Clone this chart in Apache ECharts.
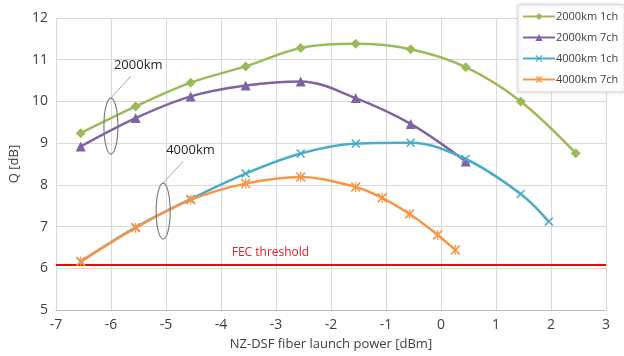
<!DOCTYPE html>
<html>
<head>
<meta charset="utf-8">
<script src="https://cdn.jsdelivr.net/npm/echarts@6/dist/echarts.min.js"></script>
<style>
  html, body { margin: 0; padding: 0; background: #fff; }
  #chart { width: 624px; height: 356px; }
</style>
</head>
<body>
<div id="chart"></div>
<script>
// launch power [dBm] and Q [dB] per curve
const x2000 = [-6.55, -5.55, -4.55, -3.55, -2.55, -1.55, -0.55, 0.45, 1.45, 2.45]
const q2000_1ch = [9.24, 9.88, 10.45, 10.84, 11.28, 11.38, 11.25, 10.82, 10.0, 8.76]
const q2000_7ch = [8.92, 9.6, 10.12, 10.38, 10.48, 10.08, 9.46, 8.56]
const x4000_1ch = [-6.55, -5.55, -4.55, -3.55, -2.55, -1.55, -0.55, 0.45, 1.45, 1.96]
const q4000_1ch = [6.16, 6.98, 7.66, 8.27, 8.75, 8.99, 9.01, 8.62, 7.78, 7.12]
const x4000_7ch = [-6.55, -5.55, -4.55, -3.55, -2.55, -1.55, -1.07, -0.57, -0.06, 0.26]
const q4000_7ch = [6.16, 6.97, 7.64, 8.03, 8.19, 7.95, 7.69, 7.3, 6.8, 6.44]
const fecLevel = 6.08
const seriesNames = ['2000km 1ch', '2000km 7ch', '4000km 1ch', '4000km 7ch']

const xMark = 'path://M0,1.2L1.2,0L5,3.8L8.8,0L10,1.2L6.2,5L10,8.8L8.8,10L5,6.2L1.2,10L0,8.8L3.8,5Z'
const starMark = 'path://M0,1.2L1.2,0L4.4,3.2L4.4,0L5.6,0L5.6,3.2L8.8,0L10,1.2L6.2,5L10,8.8L8.8,10L5.6,6.8L5.6,10L4.4,10L4.4,6.8L1.2,10L0,8.8L3.8,5Z'

const zip = (xs, ys) => ys.map((y, i) => [xs[i], y])

const ch = echarts.init(document.getElementById('chart'))

function curve(name, data, color, symbol, size) {
  return {
    name: name,
    type: 'line',
    data: data,
    smooth: 0.35,
    color: color,
    symbol: symbol,
    symbolSize: size,
    lineStyle: { width: 2.5, color: color },
    itemStyle: { color: color },
    z: 3
  }
}

const font = 'Open Sans, Noto Sans, sans-serif'

let option = {
  animation: false,
  textStyle: { fontFamily: font },
  grid: { left: 48, right: 18, top: 18, bottom: 46 },
  legend: {
    data: seriesNames,
    orient: 'vertical',
    left: 518,
    top: 5,
    itemWidth: 32,
    itemHeight: 9,
    itemGap: 10,
    padding: [6, 6, 7, 4],
    backgroundColor: '#fff',
    borderColor: '#d9d9d9',
    borderWidth: 1,
    shadowColor: 'rgba(0,0,0,0.15)',
    shadowBlur: 4,
    textStyle: { color: '#404040', fontSize: 11, fontFamily: font, padding: [0, 0, 0, -4] }
  },
  xAxis: {
    type: 'value',
    min: -7,
    max: 3,
    interval: 1,
    name: 'NZ-DSF fiber launch power [dBm]',
    nameLocation: 'middle',
    nameGap: 28,
    nameTextStyle: { color: '#404040', fontSize: 13 },
    axisLine: { show: true, lineStyle: { color: '#bfbfbf' } },
    axisTick: { show: false, length: 0 },
    minorTick: { show: false },
    axisLabel: { color: '#404040', fontSize: 14, margin: 8 },
    splitLine: { lineStyle: { color: '#d9d9d9' } }
  },
  yAxis: {
    type: 'value',
    min: 5,
    max: 12,
    interval: 1,
    name: 'Q [dB]',
    nameLocation: 'middle',
    nameGap: 34,
    nameTextStyle: { color: '#404040', fontSize: 13 },
    axisLine: { show: true, lineStyle: { color: '#d9d9d9' } },
    axisTick: { show: false, length: 0 },
    axisLabel: { color: '#404040', fontSize: 14, margin: 8 },
    splitLine: { lineStyle: { color: '#d9d9d9' } }
  },
  series: [
    {
      name: 'FEC threshold',
      type: 'line',
      data: [[-7, fecLevel], [3, fecLevel]],
      symbol: 'none',
      lineStyle: { color: '#ff0000', width: 2 },
      z: 2
    },
    curve(seriesNames[0], zip(x2000, q2000_1ch), '#9bbb59', 'diamond', 10),
    curve(seriesNames[1], zip(x2000, q2000_7ch), '#8064a2', 'triangle', 10),
    curve(seriesNames[2], zip(x4000_1ch, q4000_1ch), '#4bacc6', xMark, 9),
    curve(seriesNames[3], zip(x4000_7ch, q4000_7ch), '#f79646', starMark, 10)
  ]
}
ch.setOption(option)

// annotations: ellipses, leader lines and labels
function px(p) { return ch.convertToPixel({ gridIndex: 0 }, p) }
function bracket(cx, cy, label) {
  const c = px([cx, cy])
  return [
    { type: 'ellipse', shape: { cx: c[0], cy: c[1], rx: 7, ry: 28 },
      style: { fill: 'none', stroke: '#808080', lineWidth: 1.2 }, z: 10 },
    { type: 'line', shape: { x1: c[0], y1: c[1] - 28, x2: c[0] + 20, y2: c[1] - 50 },
      style: { stroke: '#a6a6a6', lineWidth: 1 }, z: 10 },
    { type: 'text', x: c[0] + 3, y: c[1] - 61,
      style: { text: label, fill: '#262626', font: '13px ' + font, textVerticalAlign: 'middle' }, z: 10 }
  ]
}
const fecPos = px([-3.1, 6.37])
ch.setOption({
  graphic: [].concat(
    bracket(-6.0, 9.41, '2000km'),
    bracket(-5.05, 7.37, '4000km'),
    [{ type: 'text', x: fecPos[0], y: fecPos[1],
       style: { text: 'FEC threshold', fill: '#e0202a', font: '12px ' + font, align: 'center', verticalAlign: 'middle' }, z: 10 }]
  )
})
</script>
</body>
</html>
